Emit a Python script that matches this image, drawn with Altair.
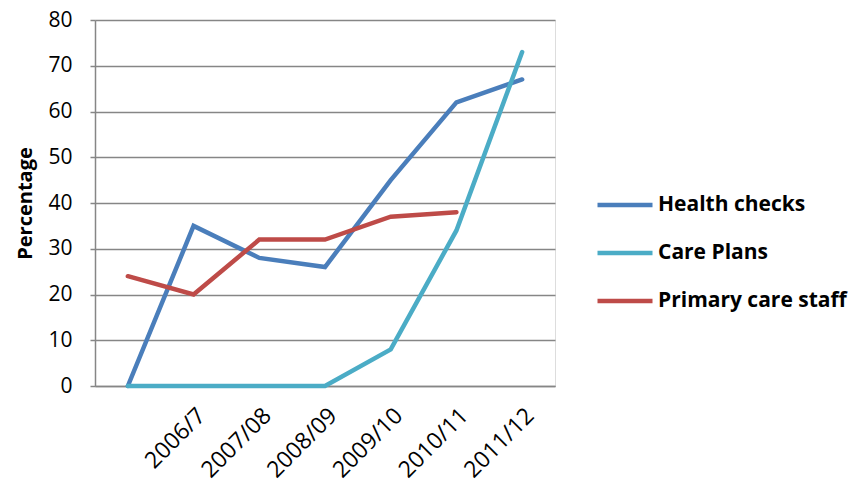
import altair as alt
import pandas as pd

categories = [" ", "2006/7", "2007/08", "2008/09", "2009/10", "2010/11", "2011/12"]
health_checks = [0, 35, 28, 26, 45, 62, 67]
care_plans = [0, 0, 0, 0, 8, 34, 73]
primary_care_staff = [24, 20, 32, 32, 37, 38, None]
series_names = ["Health checks", "Care Plans", "Primary care staff"]
colors = ["#4a7ebb", "#4bacc6", "#be4b48"]
y_ticks = [0, 10, 20, 30, 40, 50, 60, 70, 80]

rows = []
for name, vals in zip(series_names, [health_checks, care_plans, primary_care_staff]):
    for i, (c, v) in enumerate(zip(categories, vals)):
        if v is not None:
            rows.append({"year": c, "value": v, "series": name, "order": i})
df = pd.DataFrame(rows)

FONT = "Open Sans"

chart = alt.Chart(df).mark_line(strokeWidth=4.5, strokeCap="round", strokeJoin="miter").encode(
    x=alt.X("year:N", sort=categories,
            scale=alt.Scale(type="point", domain=categories, padding=0.5),
            axis=alt.Axis(title=None, labelAngle=-45, labelAlign="right", labelBaseline="top",
                          labelFontSize=23, labelFont=FONT, labelColor="#000000",
                          ticks=False, labelPadding=18, domainColor="#868686",
                          domainWidth=1.5, grid=False)),
    y=alt.Y("value:Q", scale=alt.Scale(domain=[0, 80], nice=False),
            axis=alt.Axis(title="Percentage", values=y_ticks, titleFontSize=20,
                          titleFont=FONT, titleFontWeight="bold", titleColor="#000000",
                          labelFontSize=21, labelFont=FONT, labelColor="#000000",
                          tickSize=5, tickColor="#868686", tickWidth=1.5,
                          domainColor="#868686", domainWidth=1.5,
                          gridColor="#868686", gridWidth=1.5, labelPadding=18,
                          titlePadding=12)),
    color=alt.Color("series:N",
                    scale=alt.Scale(domain=series_names, range=colors),
                    legend=alt.Legend(title=None, orient="none", legendX=500, legendY=155,
                                      symbolType="stroke", symbolSize=3025,
                                      symbolStrokeWidth=4.5, labelFontSize=21,
                                      labelFont=FONT, labelFontWeight="bold",
                                      labelColor="#000000", rowPadding=8,
                                      labelOffset=3, labelLimit=400)),
    order="order:Q",
).properties(
    width=460, height=366,
    autosize=alt.AutoSizeParams(type="none"),
    padding={"left": 95, "top": 20, "right": 299, "bottom": 101},
).configure_view(stroke=None).configure(background="white")

chart.save("out.html", embed_options={"renderer": "svg", "actions": False})
